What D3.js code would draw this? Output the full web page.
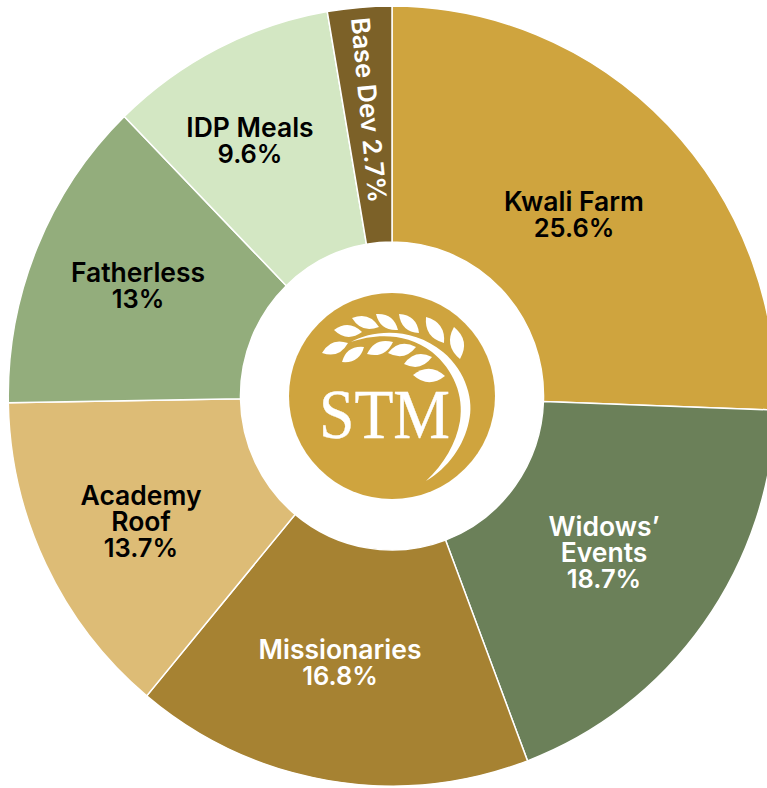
<!DOCTYPE html>
<html>
<head>
<meta charset="utf-8">
<script src="https://cdn.jsdelivr.net/npm/d3@7"></script>
<style>
  html, body { margin: 0; padding: 0; background: #fff; overflow: hidden; }
  svg { display: block; }
</style>
</head>
<body>
<div id="ring"></div>
<script>
const categories = ["Kwali Farm", "Widows' Events", "Missionaries", "Academy Roof", "Fatherless", "IDP Meals", "Base Dev"];
const shares = [25.6, 18.7, 16.8, 13.7, 13, 9.6, 2.7];
const sliceColors = ["#cfa43e", "#6b8059", "#a68232", "#ddbc76", "#93ad7c", "#d3e7c3", "#7c6128"];
const labelLines = [["Kwali Farm", "25.6%"], ["Widows’", "Events", "18.7%"], ["Missionaries", "16.8%"], ["Academy", "Roof", "13.7%"], ["Fatherless", "13%"], ["IDP Meals", "9.6%"], ["Base Dev 2.7%"]];
const labelColors = ["#000", "#fff", "#fff", "#000", "#000", "#000", "#fff"];
const labelSpots = [[574, 201], [604, 526], [340, 649], [141, 495], [138, 272], [250, 127], [369, 110]];

const width = 767, height = 788,
  cx = 392, cy = 396,
  innerRadius = 154, outerRadius = 390,
  squeeze = 0.984;

const arcs = d3.pie().sort(null).value(d => d)(shares);
const arc = d3.arc().innerRadius(innerRadius).outerRadius(outerRadius);

const svg = d3.select("#ring")
  .append("svg")
  .attr("width", width)
  .attr("height", height);

// the ring in the picture is a little narrower than tall
svg.append("g")
  .attr("transform", `translate(${cx},${cy}) scale(${squeeze},1)`)
  .attr("stroke", "white")
  .attr("stroke-width", 1.5)
  .selectAll("path")
  .data(arcs)
  .join("path")
  .attr("fill", (d, i) => sliceColors[i])
  .attr("d", arc);

// labels, line pitch 26.5px
const labels = svg.append("g")
  .attr("font-family", "Inter, sans-serif")
  .attr("font-size", 26.5)
  .attr("font-weight", 600)
  .attr("text-anchor", "middle")
  .selectAll("text")
  .data(labelLines)
  .join("text")
  .attr("fill", (d, i) => labelColors[i])
  .attr("font-size", (d, i) => i === 6 ? 25.6 : null)
  .attr("transform", (d, i) => i === 6
    ? `translate(${labelSpots[i]}) rotate(84.5)`
    : `translate(${labelSpots[i]})`);

labels.selectAll("tspan")
  .data(d => d)
  .join("tspan")
  .attr("x", 0)
  .attr("y", (d, i) => i * 26.5)
  .attr("dy", "0.36em")
  .attr("font-size", d => /^[\d.]+%$/.test(d) ? 25.5 : null)
  .text(d => d);

// logo
const logo = svg.append("g").attr("transform", `translate(${cx},396)`);
logo.append("circle").attr("r", 103).attr("fill", "#cfa43e");

// stem
logo.append("path")
  .attr("fill", "white")
  .attr("d", "M-41,-54 C-20,-66 20,-70 51,-44 C75,-24 82,6 77,25 C72,50 56,72 34,85 C52,68 64,48 68,25 C72,0 62,-26 40,-44 C14,-64 -18,-62 -41,-54 Z");

// leaves: tip-to-tip in logo units
const leaves = [
  [-58,-66,-30,-64],[-40,-78,-13,-69],[-16,-82,6,-66],[7,-82,27,-63],[34,-79,52,-53],[62,-69,68,-37],
  [-70,-43,-44,-53],[-50,-34,-28,-49],[-25,-42,1,-54],[-4,-43,24,-49],[12,-32,40,-39],[21,-21,53,-20]
];
logo.append("g")
  .attr("fill", "white")
  .selectAll("path")
  .data(leaves)
  .join("path")
  .attr("d", ([x0, y0, x1, y1]) => {
    const mx = (x0 + x1) / 2, my = (y0 + y1) / 2;
    const nx = (y1 - y0) * 0.42, ny = (x0 - x1) * 0.42;
    return `M${x0},${y0} Q${mx + nx},${my + ny} ${x1},${y1} Q${mx - nx},${my - ny} ${x0},${y0} Z`;
  });

logo.append("text")
  .attr("x", -7.5)
  .attr("y", 42)
  .attr("text-anchor", "middle")
  .attr("font-family", "'Liberation Serif', serif")
  .attr("font-size", 69)
  .attr("textLength", 131)
  .attr("lengthAdjust", "spacingAndGlyphs")
  .attr("fill", "white")
  .attr("stroke", "white")
  .attr("stroke-width", 0.4)
  .text("STM");
</script>
</body>
</html>
